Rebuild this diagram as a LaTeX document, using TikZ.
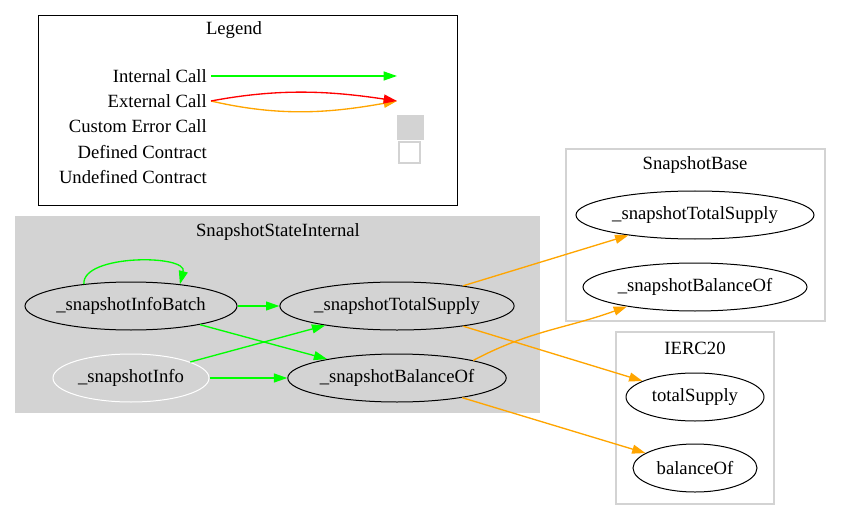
\documentclass[tikz,border=0pt]{standalone}
\usepackage{fontspec}
\setmainfont{Liberation Serif}
\usetikzlibrary{arrows.meta,shapes.geometric}
\definecolor{callgreen}{RGB}{0,255,0}
\definecolor{callred}{RGB}{255,0,0}
\definecolor{callorange}{RGB}{255,165,0}
\definecolor{clustergray}{RGB}{211,211,211}
\begin{document}
\begin{tikzpicture}[x=0.75pt, y=-0.75pt, font=\fontsize{14}{16}\selectfont,
    fn node/.style={ellipse, draw, line width=0.75pt, minimum height=36pt, inner sep=0pt},
    int call/.style={draw=callgreen, line width=1pt, -{Triangle[length=10pt,width=6.7pt]}},
    ext call/.style={draw=callorange, line width=1pt, -{Triangle[length=10pt,width=6.7pt]}},
    key label/.style={anchor=east, inner sep=0pt}]
    \useasboundingbox (0,0) rectangle (841,520);

    % legende
    \draw[line width=0.75pt] (38,16) rectangle (457,206);
    \node (legend) at (234,30) {Legend};
    \node[key label] (kint) at (207,76) {Internal Call};
    \node[key label] (kext) at (207,101) {External Call};
    \node[key label] (kerr) at (207,126) {Custom Error Call};
    \node[key label] (kdef) at (207,152) {Defined Contract};
    \node[key label] (kundef) at (207,177) {Undefined Contract};
    \coordinate (kintend) at (397,76);
    \coordinate (kextend) at (397,101);
    \draw[int call] (kint.east) ++(4,0) -- (kintend);
    \draw[ext call] (kext.east) ++(4,0) .. controls (280,117) and (330,113) .. (kextend);
    \draw[ext call, draw=callred] (kext.east) ++(4,0) .. controls (280,88) and (330,91) .. (kextend);
    \node[draw=clustergray, fill=clustergray, minimum width=19.5pt, minimum height=18pt, inner sep=0pt] (kerrbox) at (410,127) {};
    \node[draw=clustergray, line width=0.8pt, minimum size=15.75pt, inner sep=0pt] (kdefbox) at (409.5,152.5) {};

    % clusters
    \fill[clustergray] (15,216) rectangle (540,413);
    \node (internal) at (278,232) {SnapshotStateInternal};
    \draw[clustergray, line width=1pt] (566,149) rectangle (825,321);
    \node (base) at (695,165) {SnapshotBase};
    \draw[clustergray, line width=1pt] (616,332) rectangle (774,504);
    \node (ierc) at (695,348) {IERC20};

    % fonctions
    \node[fn node, minimum width=159pt] (batch) at (131,306) {\_snapshotInfoBatch};
    \node[fn node, minimum width=172.5pt] (itotal) at (397,306) {\_snapshotTotalSupply};
    \node[fn node, draw=white, minimum width=117pt] (info) at (131,378) {\_snapshotInfo};
    \node[fn node, minimum width=162pt] (ibalance) at (397,378) {\_snapshotBalanceOf};
    \node[fn node, minimum width=178.5pt] (btotal) at (695,215) {\_snapshotTotalSupply};
    \node[fn node, minimum width=168pt] (bbalance) at (695,287) {\_snapshotBalanceOf};
    \node[fn node, minimum width=103.5pt] (total) at (695,397) {totalSupply};
    \node[fn node, minimum width=93pt] (balance) at (695,468) {balanceOf};

    % appels internes
    \draw[int call] (batch.155) .. controls +(-2,-30) and +(8,-30) .. (batch.24);
    \draw[int call] (batch) -- (itotal);
    \draw[int call] (batch) -- (ibalance);
    \draw[int call] (info) -- (itotal);
    \draw[int call] (info) -- (ibalance);

    % appels externes
    \draw[ext call] (itotal) -- (btotal);
    \draw[ext call] (itotal) -- (total);
    \draw[ext call] (ibalance.13) to[out=28, in=200] (bbalance.196);
    \draw[ext call] (ibalance) -- (balance);
\end{tikzpicture}
\end{document}
